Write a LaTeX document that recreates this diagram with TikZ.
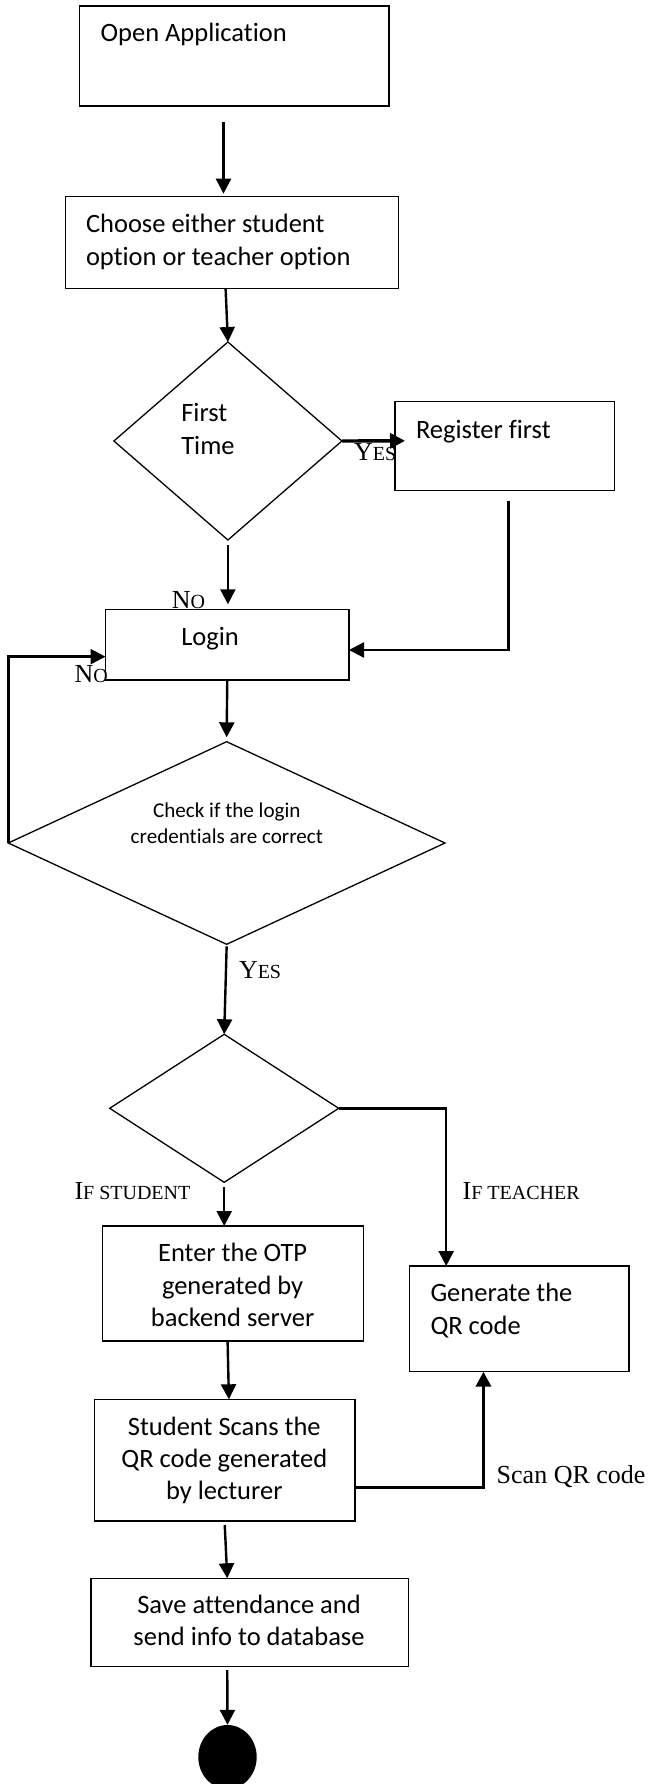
\documentclass[tikz,border=0pt]{standalone}
\usepackage{fontspec}
\setmainfont{Liberation Serif}
\newfontfamily\calfont[RawFeature=-liga,RawFeature=-clig,RawFeature=-rlig,RawFeature=-calt,RawFeature=-dlig]{Carlito}
\usetikzlibrary{shapes.geometric,arrows.meta,calc}
\newcommand{\mysc}[2]{{\fontsize{26}{30}\selectfont #1}{\fontsize{20}{24}\selectfont #2}}
\begin{document}
\begin{tikzpicture}[x=1pt,y=-1pt,
  box/.style={draw, rectangle, line width=1.3pt, inner sep=0pt, outer sep=0pt},
  dia/.style={draw, diamond, line width=1.3pt, inner sep=0pt, outer sep=0pt},
  arr/.style={line width=2.4pt, -{Triangle[length=15pt,width=15pt]}},
  thickarr/.style={arr, line width=3.4pt},
  txt/.style={font=\calfont\fontsize{26.5}{32.3}\selectfont, inner sep=0pt, outer sep=0pt},
  smalltxt/.style={font=\calfont\fontsize{21.1}{25.8}\selectfont, inner sep=0pt, outer sep=0pt},
  lbl/.style={font=\fontsize{26}{30}\selectfont, inner sep=0pt, outer sep=0pt, anchor=base west}]
\useasboundingbox (0,0) rectangle (649,1784);
\fill[white] (0,0) rectangle (649,1784);

% boxes
\node[box, minimum width=309.5pt, minimum height=100pt] (open) at (234.25,56) {};
\node[box, minimum width=333.2pt, minimum height=92pt] (choose) at (232,242.7) {};
\node[dia, minimum width=228pt, minimum height=198pt] (d1) at (227.9,441) {};
\node[box, minimum width=219.7pt, minimum height=89pt] (register) at (504.85,446.2) {};
\node[box, minimum width=243.5pt, minimum height=70.7pt] (login) at (227.25,644.65) {};
\node[dia, minimum width=436.7pt, minimum height=202.6pt] (d2) at (226.65,843) {};
\node[dia, minimum width=229pt, minimum height=148pt] (d3) at (224.2,1108.3) {};
\node[box, minimum width=260.8pt, minimum height=115pt] (enter) at (233,1283.5) {};
\node[box, minimum width=219.3pt, minimum height=105.7pt] (generate) at (519.45,1318.85) {};
\node[box, minimum width=260.7pt, minimum height=121.7pt] (student) at (224.75,1460.15) {};
\node[box, minimum width=317.5pt, minimum height=88.4pt] (save) at (249.75,1622.5) {};
\node[ellipse, fill=black, minimum width=58.4pt, minimum height=64pt, inner sep=0pt] (stop) at (227.5,1757) {};

% texts
\node[txt, anchor=base west] (topen) at (100.6,41.7) {Open Application};
\node[txt, anchor=base west] (tchoose) at (86,233) {\begin{tabular}[t]{@{}l@{}}Choose either student\\option or teacher option\end{tabular}};
\node[txt, anchor=base west] (td1) at (181.3,421.7) {\begin{tabular}[t]{@{}l@{}}First\\Time\end{tabular}};
\node[txt, anchor=base west] (tregister) at (416,438.3) {Register first};
\node[txt, anchor=base west] (tlogin) at (181.3,645) {Login};
\node[smalltxt, anchor=base] (td2) at (226.8,817.3) {\begin{tabular}[t]{@{}c@{}}Check if the login\\credentials are correct\end{tabular}};
\node[txt, anchor=base] (tenter) at (232.6,1261.7) {\begin{tabular}[t]{@{}c@{}}Enter the OTP\\generated by\\backend server\end{tabular}};
\node[txt, anchor=base west] (tgenerate) at (430.5,1301.7) {\begin{tabular}[t]{@{}l@{}}Generate the\\QR code\end{tabular}};
\node[txt, anchor=base] (tstudent) at (224.3,1435) {\begin{tabular}[t]{@{}c@{}}Student Scans the\\QR code generated\\by lecturer\end{tabular}};
\node[txt, anchor=base] (tsave) at (249,1613.3) {\begin{tabular}[t]{@{}c@{}}Save attendance and\\send info to database\end{tabular}};

% labels
\node[lbl] (lyes1) at (354,460.7) {\mysc{Y}{ES}};
\node[lbl] (lno1) at (171.8,608.3) {\mysc{N}{O}};
\node[lbl] (lno2) at (74.5,682.7) {\mysc{N}{O}};
\node[lbl] (lyes2) at (239,978.3) {\mysc{Y}{ES}};
\node[lbl] (lstud) at (74.5,1199.3) {\mysc{I}{F STUDENT}};
\node[lbl] (lteach) at (462.7,1199.3) {\mysc{I}{F TEACHER}};
\node[lbl] (lscan) at (496.7,1483.3) {Scan QR code};

% connectors
\draw[arr] ([xshift=-10.75pt,yshift=-16pt]open.south) -- ([xshift=-10.75pt,yshift=3pt]open.south |- choose.north);
\draw[arr] ([xshift=-6.4pt]choose.south) -- (d1.north);
\draw[thickarr] (d1.east) -- ([xshift=10pt,yshift=5.4pt]register.west);
\draw[arr] ([xshift=3.45pt,yshift=-10pt]register.south) |- ([yshift=-5.35pt]login.east);
\draw[arr] ([yshift=-5pt]d1.south) -- ([yshift=5pt]d1.south |- login.north);
\draw[arr] (d2.west) |- ([yshift=-12pt]login.west);
\draw[arr] (login.south) -- ([yshift=4.4pt]d2.north);
\draw[arr] ([yshift=-2pt]d2.south) -- (d3.north);
\draw[arr] ([yshift=-5pt]d3.south) -- (d3.south |- enter.north);
\draw[arr] (d3.east) -| ([xshift=-73.25pt]generate.north);
\draw[arr] ([xshift=-5.4pt]enter.south) -- ([xshift=4.15pt]student.north);
\draw[thickarr] ([yshift=-27.5pt]student.east) -| ([xshift=-36pt]generate.south);
\draw[arr] ([yshift=-4pt]student.south) -- ([xshift=-22.5pt]save.north);
\draw[arr] ([xshift=-22.5pt,yshift=-3.3pt]save.south) -- (stop.north);
\end{tikzpicture}
\end{document}
